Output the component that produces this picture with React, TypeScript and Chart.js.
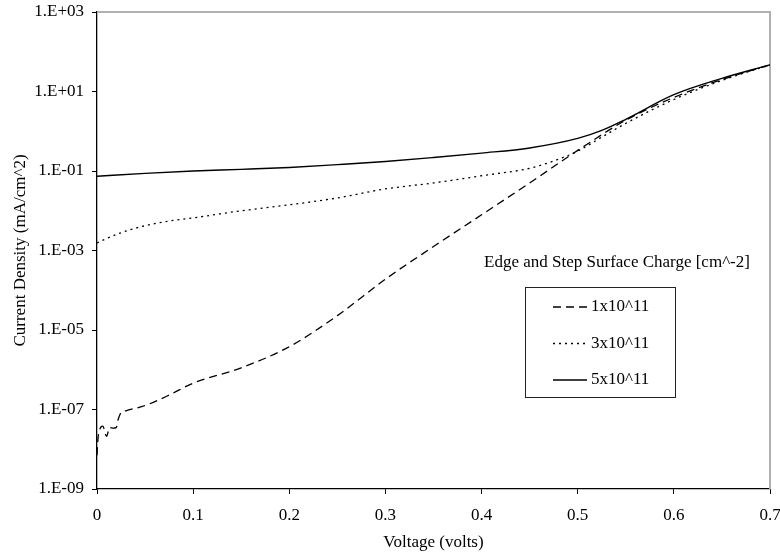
import React, { useEffect, useRef } from 'react';
import { Chart, registerables } from 'chart.js';
Chart.register(...registerables);

// ---- Data ----
const voltage1 = [0, 0.001, 0.003, 0.006, 0.010, 0.013, 0.017, 0.020, 0.022, 0.025, 0.03, 0.05, 0.075, 0.1, 0.15, 0.2, 0.25, 0.3, 0.35, 0.4, 0.45, 0.5, 0.55, 0.6, 0.65, 0.7];
const current1 = [7.1e-9, 1.8e-8, 3.2e-8, 3.8e-8, 2.1e-8, 3.5e-8, 3.4e-8, 3.5e-8, 5.6e-8, 8.3e-8, 9.3e-8, 1.26e-7, 2.3e-7, 4.6e-7, 1.12e-6, 3.8e-6, 2.3e-5, 1.9e-4, 1.26e-3, 7.9e-3, 5.0e-2, 0.33, 1.9, 7.1, 20, 46.8];

const voltage3 = [0, 0.01, 0.025, 0.05, 0.075, 0.1, 0.15, 0.2, 0.25, 0.3, 0.35, 0.4, 0.45, 0.478, 0.5, 0.525, 0.55, 0.6, 0.65, 0.7];
const current3 = [1.55e-3, 2.0e-3, 2.8e-3, 4.2e-3, 5.5e-3, 6.6e-3, 1.0e-2, 1.41e-2, 2.1e-2, 3.55e-2, 5.0e-2, 7.6e-2, 0.117, 0.19, 0.316, 0.71, 1.58, 6.3, 19, 46.8];

const voltage5 = [0, 0.05, 0.1, 0.15, 0.2, 0.25, 0.3, 0.35, 0.4, 0.45, 0.5, 0.525, 0.55, 0.6, 0.65, 0.7];
const current5 = [0.074, 0.087, 0.10, 0.11, 0.123, 0.145, 0.174, 0.219, 0.282, 0.38, 0.66, 1.05, 2.0, 8.3, 21.4, 46.8];

const seriesLabels = ['1x10^11', '3x10^11', '5x10^11'];
const legendTitle = 'Edge and Step Surface Charge [cm^-2]';
const xTickLabels = ['0', '0.1', '0.2', '0.3', '0.4', '0.5', '0.6', '0.7'];
const yTickValues = [1e-9, 1e-7, 1e-5, 1e-3, 1e-1, 1e1, 1e3];
const yTickLabels = ['1.E-09', '1.E-07', '1.E-05', '1.E-03', '1.E-01', '1.E+01', '1.E+03'];
const xTitle = 'Voltage (volts)';
const yTitle = 'Current Density (mA/cm^2)';

const FONT = "'Liberation Serif', 'Times New Roman', serif";
const FS = 17;

const zeroPad = (s: any) => {
  s.paddingLeft = 0;
  s.paddingRight = 0;
  s.paddingTop = 0;
  s.paddingBottom = 0;
};

const frameAndLegend = {
  id: 'frameAndLegend',
  beforeDatasetsDraw(chart: any) {
    const { ctx, chartArea: a } = chart;
    ctx.save();
    ctx.strokeStyle = '#b0b0b0';
    ctx.lineWidth = 2;
    ctx.beginPath();
    ctx.moveTo(a.left, a.top);
    ctx.lineTo(a.right, a.top);
    ctx.lineTo(a.right, a.bottom);
    ctx.stroke();
    ctx.restore();
  },
  afterDraw(chart: any) {
    const { ctx } = chart;
    ctx.save();
    ctx.font = `${FS}px ${FONT}`;
    ctx.fillStyle = '#000';
    ctx.textAlign = 'center';
    ctx.textBaseline = 'middle';
    ctx.fillText(legendTitle, 617, 263);
    ctx.fillStyle = '#fff';
    ctx.fillRect(525, 287, 150, 110);
    ctx.strokeStyle = '#222';
    ctx.lineWidth = 1;
    ctx.strokeRect(525.5, 287.5, 150, 110);
    chart.data.datasets.forEach((ds: any, i: number) => {
      const y = 307 + i * 36.5;
      ctx.beginPath();
      ctx.setLineDash(ds.borderDash || []);
      ctx.lineWidth = ds.borderWidth;
      ctx.strokeStyle = '#000';
      ctx.moveTo(553, y);
      ctx.lineTo(587, y);
      ctx.stroke();
      ctx.setLineDash([]);
      ctx.fillStyle = '#000';
      ctx.textAlign = 'left';
      ctx.fillText(ds.label, 591, y);
    });
    ctx.restore();
  },
};

export default function App() {
  const ref = useRef<HTMLCanvasElement>(null);
  useEffect(() => {
    document.body.style.margin = '0';
    const toPts = (xs: number[], ys: number[]) => xs.map((x, i) => ({ x, y: ys[i] }));
    const chart = new Chart(ref.current!, {
      type: 'line',
      data: {
        datasets: [
          { label: seriesLabels[0], data: toPts(voltage1, current1), borderColor: '#000', borderWidth: 1.3, borderDash: [8, 5], pointRadius: 0, cubicInterpolationMode: 'monotone', fill: false },
          { label: seriesLabels[1], data: toPts(voltage3, current3), borderColor: '#000', borderWidth: 1.3, borderDash: [2, 4], pointRadius: 0, cubicInterpolationMode: 'monotone', fill: false },
          { label: seriesLabels[2], data: toPts(voltage5, current5), borderColor: '#000', borderWidth: 1.4, borderDash: [], pointRadius: 0, cubicInterpolationMode: 'monotone', fill: false },
        ],
      },
      options: {
        responsive: false,
        animation: false,
        layout: { autoPadding: false, padding: { left: 0, top: 12, right: 10, bottom: 0 } },
        plugins: { legend: { display: false }, tooltip: { enabled: false } },
        font: { family: FONT, size: FS },
        scales: {
          x: {
            type: 'linear',
            min: 0,
            max: 0.7,
            ticks: {
              stepSize: 0.1,
              color: '#000',
              font: { family: FONT, size: FS },
              padding: 11,
              maxRotation: 0,
              callback: (_v: any, i: number) => xTickLabels[i],
            },
            grid: { display: true, drawOnChartArea: false, drawTicks: true, tickLength: 5, color: '#000' },
            border: { display: true, color: '#000', width: 1.3 },
            title: { display: true, text: xTitle, color: '#000', font: { family: FONT, size: FS }, padding: { top: 0, bottom: 1 } },
            afterFit: (s: any) => { s.height = 65; zeroPad(s); },
          },
          y: {
            type: 'logarithmic',
            min: 1e-9,
            max: 1e3,
            afterBuildTicks: (s: any) => { s.ticks = yTickValues.map((value) => ({ value })); },
            ticks: {
              color: '#000',
              font: { family: FONT, size: FS },
              padding: 8,
              autoSkip: false,
              callback: (_v: any, i: number) => yTickLabels[i],
            },
            grid: { display: true, drawOnChartArea: false, drawTicks: true, tickLength: 5, color: '#000' },
            border: { display: true, color: '#000', width: 1.3 },
            title: { display: true, text: yTitle, color: '#000', font: { family: FONT, size: FS }, padding: { top: 10, bottom: 0 } },
            afterFit: (s: any) => { s.width = 97; zeroPad(s); },
          },
        },
      } as any,
      plugins: [frameAndLegend],
    });
    return () => chart.destroy();
  }, []);
  return (
    <div style={{ width: 780, height: 554 }}>
      <canvas ref={ref} width={780} height={554} />
    </div>
  );
}
